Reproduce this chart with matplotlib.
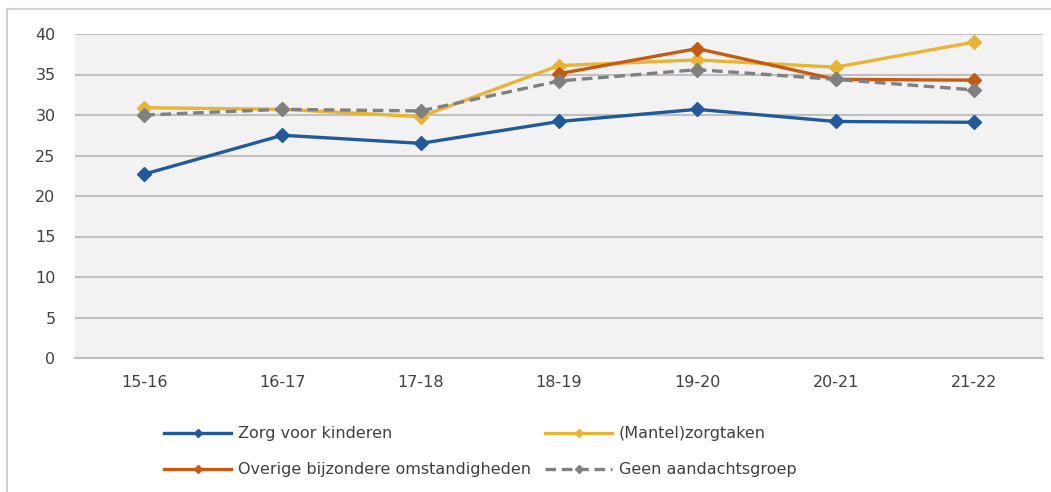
import matplotlib
matplotlib.use('Agg')
import matplotlib.pyplot as plt
from matplotlib.patches import Rectangle

# school years and the four groups
years = ['15-16', '16-17', '17-18', '18-19', '19-20', '20-21', '21-22']
zorg_kinderen = [22.7, 27.5, 26.5, 29.2, 30.7, 29.2, 29.1]
mantelzorg = [30.9, 30.7, 29.8, 36.1, 36.8, 35.9, 39.0]
overige = [None, None, None, 35.1, 38.2, 34.4, 34.3]
geen_groep = [30.0, 30.7, 30.5, 34.2, 35.6, 34.4, 33.1]

plt.rcParams['font.family'] = ['DejaVu Sans']
text_color = '#404040'

fig = plt.figure(figsize=(10.51, 4.92), dpi=100)
fig.patches.append(Rectangle((7 / 1051, -0.1), 1.2, 1 - 9 / 492 + 0.1,
                             transform=fig.transFigure, fill=False,
                             edgecolor='#D0D0D0', linewidth=1.5))
ax = fig.add_axes([75 / 1051, 1 - 358 / 492, (1043 - 75) / 1051, (358 - 34) / 492])
ax.set_facecolor('#F2F2F2')

x = list(range(len(years)))
ov_x = [i for i, v in zip(x, overige) if v is not None]
ov_y = [v for v in overige if v is not None]

kw = dict(linewidth=2.4, marker='D', markersize=7.5)
ax.plot(x, zorg_kinderen, color='#215A9A', label='Zorg voor kinderen', zorder=4, **kw)
ax.plot(x, mantelzorg, color='#E8B434', label='(Mantel)zorgtaken', zorder=3, **kw)
ax.plot(ov_x, ov_y, color='#C65A12', label='Overige bijzondere omstandigheden', zorder=3, **kw)
ax.plot(x, geen_groep, color='#808080', linestyle=(0, (3.2, 1.7)),
        label='Geen aandachtsgroep', zorder=5, **kw)

ax.set_xlim(-0.5, 6.5)
ax.set_ylim(0, 40)
ax.set_yticks(range(0, 41, 5))
ax.set_xticks(x)
ax.set_xticklabels(years)
ax.grid(axis='y', color='#C0C0C0', linewidth=1.5)
ax.set_axisbelow(True)
for side in ['top', 'right', 'left']:
    ax.spines[side].set_visible(False)
ax.spines['bottom'].set_color('#BFBFBF')
ax.spines['bottom'].set_linewidth(1.5)
ax.tick_params(length=0, labelsize=11.5, labelcolor=text_color, pad=12)
ax.tick_params(axis='y', pad=14)

handles, labels = ax.get_legend_handles_labels()
order = [0, 2, 1, 3]
fig.legend([handles[i] for i in order], [labels[i] for i in order],
           ncol=2, loc='upper left', bbox_to_anchor=(150 / 1051, 1 - 412 / 492),
           frameon=False, fontsize=11.5, labelcolor=text_color,
           handlelength=4.2, handletextpad=0.4, columnspacing=0.9,
           markerscale=0.6, labelspacing=1.3)

fig.savefig('out.png', dpi=100, facecolor='white')
